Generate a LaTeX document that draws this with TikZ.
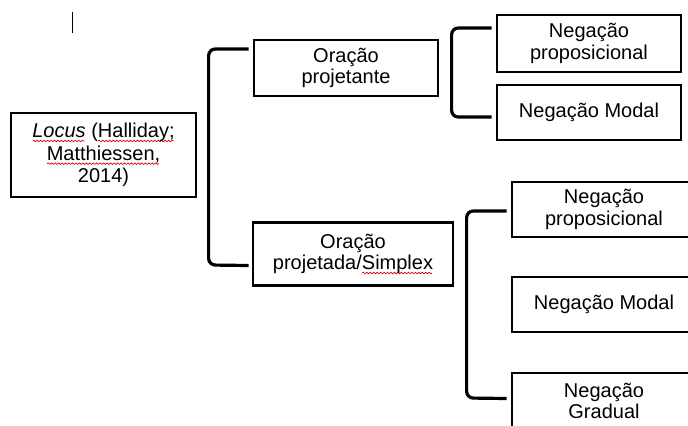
\documentclass[tikz,border=0pt]{standalone}
\usepackage{fontspec}
\setmainfont{Liberation Sans}
\usetikzlibrary{calc,decorations.pathmorphing}

% red wavy underline, as a spell checker draws it
\newsavebox\spellbox
\newcommand\spellmark[1]{\sbox\spellbox{#1}%
  \rlap{\raisebox{-2.6pt}{\tikz[x=1pt,y=1pt,baseline=0pt]{%
    \draw[draw=red!85!black,line width=0.5pt,decorate,
      decoration={snake,amplitude=0.6pt,segment length=2.6pt}]
      (0.5,0) -- (\the\wd\spellbox-0.5pt,0);}}}%
  \usebox\spellbox}

\tikzset{
  box/.style={draw=black,line width=2.1pt,fill=white,align=center,inner sep=2pt,
    font=\fontsize{15}{16}\selectfont,text=black},
  bracket/.style={draw=black,line width=2.4pt,rounded corners=5pt,line cap=butt}
}

\begin{document}
\begin{tikzpicture}[x=0.75pt,y=-0.75pt]
\useasboundingbox (0,0) rectangle (688,425);
\clip (0,0) rectangle (688,425);
\fill[white] (0,0) rectangle (688,425);

% text cursor mark
\coordinate (c1) at (72.5,12);
\coordinate (c2) at (72.5,33);
\draw[line width=1.1pt] (c1) -- (c2);

% boxes
\node[box,font=\fontsize{15}{17}\selectfont,minimum width=185*0.75pt,minimum height=84*0.75pt]
  (locus) at (103.5,155)
  {\spellmark{\itshape Locus} (\spellmark{Halliday;}\\\spellmark{Matthiessen,}\\2014)};
\node[box,minimum width=184*0.75pt,minimum height=56*0.75pt] (projt) at (346,68)
  {Oração\\projetante};
\node[box,minimum width=200*0.75pt,minimum height=63*0.75pt] (projd) at (353,254)
  {Oração\\projetada/\spellmark{Simplex}};
\node[box,minimum width=184*0.75pt,minimum height=57*0.75pt] (np1) at (589,43.5)
  {Negação\\proposicional};
\node[box,minimum width=184*0.75pt,minimum height=55*0.75pt] (nm1) at (589,112.5)
  {Negação Modal};
\node[box,minimum width=184*0.75pt,minimum height=55*0.75pt] (np2) at (604,209.5)
  {Negação\\proposicional};
\node[box,minimum width=184*0.75pt,minimum height=55*0.75pt] (nm2) at (604,304.5)
  {Negação Modal};
\node[box,minimum width=184*0.75pt,minimum height=56*0.75pt] (ng) at (604,401)
  {Negação\\Gradual};

% brackets grouping the branches
\draw[bracket] ([shift={(-4,-19)}]projt.west) -| ([shift={(-43,0)}]projd.west |- 0,265)
  -- ([shift={(-3,11.5)}]projd.west);
\draw[bracket] ([shift={(-4,-15.5)}]np1.west) -| ([xshift=-44*0.75pt]nm1.west |- 0,117)
  -- ([shift={(-4,4.5)}]nm1.west);
\draw[bracket] ([shift={(-4,1.5)}]np2.west) -| ([xshift=-44*0.75pt]ng.west |- 0,398)
  -- ([shift={(-4,-2.5)}]ng.west);
\end{tikzpicture}
\end{document}
